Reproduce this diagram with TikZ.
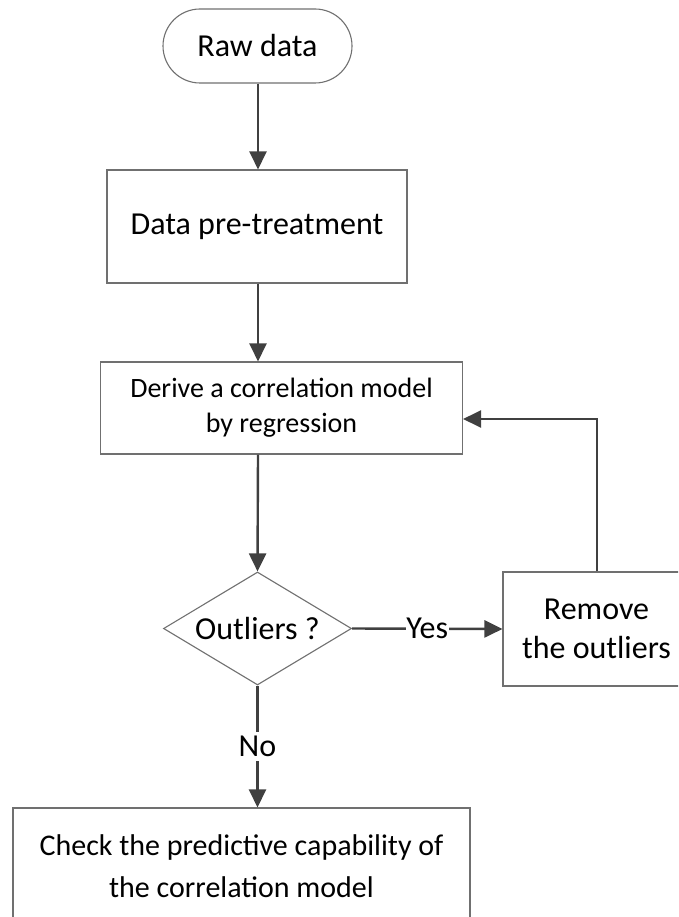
\documentclass[tikz,border=0pt]{standalone}
\usepackage{fontspec}
\setmainfont{Carlito}
\usetikzlibrary{shapes.misc,shapes.geometric,arrows.meta}
\definecolor{bordc}{HTML}{707070}
\definecolor{linec}{HTML}{404040}
\begin{document}
\begin{tikzpicture}[x=1pt,y=-1pt,
  box/.style={draw=bordc,line width=1.1pt,inner sep=0pt,align=center,font=\fontsize{32}{39}\selectfont},
  conn/.style={draw=linec,line width=2.4pt,-{Triangle[length=18pt,width=17pt]}},
  lbl/.style={fill=white,inner sep=0.5pt,font=\fontsize{32}{39}\selectfont}]
\useasboundingbox (0,0) rectangle (678,917);
\clip (0,0) rectangle (678,917);
\node[box,rounded rectangle,minimum width=189pt,minimum height=74pt] (raw) at (257.5,46) {Raw data};
\node[box,minimum width=300pt,minimum height=113pt] (pre) at (257,226.5) {Data pre-treatment};
\node[box,minimum width=362pt,minimum height=92pt,font=\fontsize{28}{35}\selectfont] (der) at (281.5,408) {Derive a correlation model\\by regression};
\node[box,diamond,aspect=1.66,minimum width=188pt,minimum height=113pt] (out) at (257.5,628.5) {Outliers ?};
\node[box,minimum width=187pt,minimum height=114pt] (rem) at (596.5,629) {Remove\\the outliers};
\node[box,minimum width=457pt,minimum height=116pt,font=\fontsize{30}{42}\selectfont] (chk) at (241.5,866) {Check the predictive capability of\\the correlation model};
\coordinate (fbtop) at (597,419);
\coordinate (fbin) at (der.east |- fbtop);
\draw[conn] (raw.south -| 258,0) -- (pre.north -| 258,0);
\draw[conn] (pre.south -| 258,0) -- (der.north -| 258,0);
\draw[conn] (der.south -| 258,0) -- (out.north);
\draw[conn] (out.east) -- node[lbl] (yes) {Yes} (rem.west);
\draw[conn] (out.south) -- node[lbl,pos=0.5,inner ysep=4pt] (no) {No} (chk.north -| out.south);
\draw[conn] (rem.north -| fbtop) -- (fbtop) -- (fbin);
\end{tikzpicture}
\end{document}
